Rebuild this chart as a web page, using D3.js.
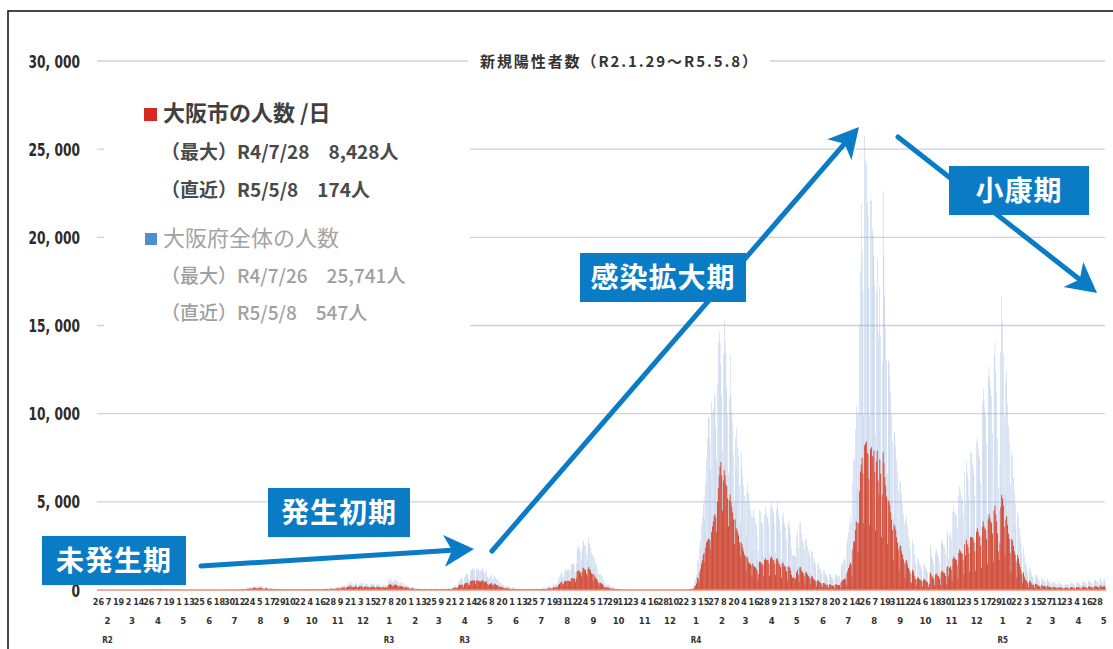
<!DOCTYPE html>
<html lang="ja">
<head>
<meta charset="utf-8">
<script src="https://cdn.jsdelivr.net/npm/d3@7"></script>
<style>
html,body{margin:0;padding:0;background:#fff;}
svg{display:block;}
</style>
</head>
<body>
<svg id="chart" width="1113" height="649"></svg>
<script>
// Daily new cases, Osaka Prefecture (whole), from 2020-01-29 to 2023-05-08, one line per month
const pref2020 = [
1,0,0,
0,0,0,0,0,0,0,0,0,0,0,0,0,0,0,0,0,0,0,0,0,0,0,0,0,1,0,0,2,
7,3,4,8,8,7,5,3,2,4,3,4,3,5,2,1,3,2,3,1,2,4,3,5,7,15,20,17,15,8,20,
22,34,38,41,31,28,49,57,92,63,59,35,30,55,50,43,53,41,30,28,43,29,33,27,20,15,12,25,14,17,
18,13,7,8,6,4,3,5,4,2,3,5,3,2,1,0,1,0,2,1,0,3,0,0,0,1,2,1,0,1,2,
1,2,0,3,0,1,2,0,1,1,0,2,0,1,3,0,2,1,4,2,3,5,4,2,6,8,10,7,5,12,
12,10,14,16,9,7,19,14,22,26,32,28,17,31,46,66,49,86,59,41,72,121,104,149,132,141,83,155,221,190,216,
195,194,88,225,196,225,255,170,177,95,110,187,179,164,135,111,52,132,117,110,107,81,82,41,68,86,90,76,62,58,53,
50,60,49,61,44,41,28,38,46,37,55,43,41,25,54,48,50,61,52,27,25,22,48,35,56,45,41,28,47,56,
52,70,66,58,35,52,64,71,82,86,61,35,50,81,58,63,46,45,37,71,96,85,93,111,89,54,83,132,124,125,132,
120,79,125,131,181,153,202,171,100,190,256,231,264,293,202,184,273,338,370,370,415,490,278,303,326,318,371,463,332,226,
320,399,361,425,398,337,213,348,383,374,327,348,288,230,322,349,348,358,371,326,191,285,359,336,330,311,300,203,246,300,318
];
const pref2021 = [
262,262,283,231,393,560,607,654,547,481,383,449,592,592,510,489,397,264,432,453,368,391,381,174,253,341,286,248,225,213,135,
120,190,193,137,142,119,70,103,106,94,73,90,78,58,51,85,79,95,81,69,53,46,48,60,95,64,43,54,
31,58,80,88,74,53,59,52,66,76,75,83,63,41,62,86,97,114,106,90,108,84,147,209,244,254,262,185,213,432,599,
616,666,666,593,341,719,878,905,883,918,655,603,1099,1130,1208,1209,1161,1220,719,1153,1242,1167,1162,1097,1050,1172,1155,1260,1033,937,
1021,1117,758,662,644,709,835,877,619,436,736,804,702,604,618,532,294,404,431,375,334,279,287,172,205,229,224,207,194,153,68,
112,141,137,134,122,84,60,75,83,80,91,73,70,49,83,55,83,65,59,38,42,64,77,78,74,77,75,43,73,81,
92,97,73,62,59,74,103,125,117,109,106,79,124,177,198,229,211,182,149,221,362,306,300,360,398,297,661,751,932,885,1040,
710,739,1074,1173,1061,1089,1181,1131,1164,1041,1480,1461,1501,1465,1395,1000,1482,2296,2402,2488,2398,2137,1710,2339,2810,2768,2523,2551,2044,1676,2660,
3004,2638,2439,2095,2030,1218,1915,1793,1491,1458,1201,920,525,886,912,823,740,551,408,331,247,372,304,309,261,225,145,196,147,154,
142,120,76,49,116,76,74,59,51,47,20,27,53,36,26,27,19,11,24,27,19,18,24,11,8,20,13,17,10,11,6,
4,11,10,8,8,5,3,7,8,6,11,7,5,2,4,7,6,5,10,6,4,3,8,9,7,5,6,4,9,8,
9,6,8,12,5,6,9,13,8,11,7,4,10,9,12,6,8,10,7,8,19,18,20,27,30,25,18,50,61,88,96
];
const pref2022 = [
102,123,106,244,505,610,891,1711,1560,1075,2452,2826,3692,4125,4857,5396,3900,6101,7375,8612,9813,9778,8400,6800,10676,10073,10288,11019,11144,9213,7375,
11681,14138,14608,14008,12844,11066,7912,13432,15291,14081,13400,11431,9947,6624,10854,13300,11043,10106,9478,7694,4994,8612,6904,9200,8100,7600,5959,3803,
7800,7053,6414,5914,5329,5004,3024,5479,6058,5525,4965,4599,4236,2347,4128,4585,4168,3883,3668,3082,1789,2243,4532,4449,3851,3823,3447,1894,4269,4747,4383,
4082,4194,3686,2042,4628,5057,4720,4426,4363,3685,2145,4617,5048,4491,4173,3968,3365,1771,4209,4402,3878,3692,3548,2893,1489,3723,3961,3553,3141,2355,
2003,2015,1947,1876,1920,3067,3354,2373,1223,3791,3828,3217,2812,2680,2328,1176,2872,2905,2490,2236,2047,1869,904,2229,2154,1827,1617,1560,1297,556,1546,
1472,1267,1155,1116,895,407,1114,1086,909,832,834,676,291,914,897,752,716,723,607,279,866,934,772,758,784,781,374,1218,1503,1491,
1663,1797,1684,754,2566,2919,3281,3729,4103,3853,1980,6124,7392,7374,9126,10421,10057,5718,10102,15004,18098,21900,19128,16855,9913,25741,24373,24165,22004,21283,17193,
9901,22195,22060,20466,20108,18926,17282,8836,16934,18806,14648,14102,17198,14402,7318,12919,22600,19001,16657,14906,13025,6566,13016,12969,12158,11195,10013,8455,4145,9003,8924,
8206,7347,6667,5612,2674,6191,6053,5418,4835,4289,3710,1739,3966,4130,3600,3090,2814,2338,1093,991,2871,2617,2034,1524,1477,655,1793,1724,1502,1433,
1276,1115,480,1380,1488,1330,1203,1135,997,363,745,2601,2267,1956,1745,1570,602,2095,2317,2173,1954,1883,1549,655,2641,2938,2699,2519,2442,2033,855,
3227,3321,1790,3108,3303,2877,1381,4430,4767,4453,4329,4229,3518,1616,5386,5898,5592,5337,5184,4307,2233,6672,4930,7280,6643,6294,5271,2629,7807,7789,
7228,6986,6539,5358,2735,8378,8622,8008,7564,7426,6133,3050,10600,11400,10700,10200,9900,8300,4200,12100,12700,12000,11400,11000,8900,4600,13300,14000,12400,11200,8600
];
const pref2023 = [
5800,4500,7200,13500,16661,15200,13400,9800,5400,11800,12400,10600,9300,8400,6000,2900,7800,7600,6400,5600,4900,3700,1700,4400,4200,3500,3000,2600,2000,900,2400,
1900,1500,1400,1200,1000,400,1300,1200,1000,800,700,750,300,900,850,750,700,600,500,230,650,700,450,600,550,450,200,650,
600,500,450,400,330,160,480,450,420,380,340,280,130,420,400,360,330,280,240,120,280,370,350,330,290,240,110,390,420,380,340,
290,260,130,430,450,420,380,330,290,140,470,500,470,420,370,320,150,490,540,500,450,400,340,160,530,590,540,510,450,400,
240,620,700,480,420,560,640,547
];

// Daily new cases, Osaka City, same days
const city2020 = [
0,0,0,
0,0,0,0,0,0,0,0,0,0,0,0,0,0,0,0,0,0,0,0,0,0,0,0,0,0,0,0,1,
3,1,2,4,3,3,2,1,1,2,1,2,1,2,1,0,1,1,1,0,1,2,1,2,3,7,10,8,7,4,10,
11,16,19,20,15,14,25,28,46,31,30,17,15,27,25,21,27,20,15,14,22,14,16,13,10,7,6,12,7,8,
9,6,3,4,3,2,1,2,2,1,1,2,1,1,0,0,0,0,1,0,0,1,0,0,0,0,1,0,0,0,1,
0,1,0,2,0,0,1,0,0,1,0,1,0,0,2,0,1,0,2,1,2,3,2,1,4,5,6,4,3,8,
8,6,9,10,5,4,12,9,14,16,20,17,10,19,28,40,30,53,36,25,44,74,64,90,80,85,50,93,130,112,126,
115,112,50,128,110,125,140,95,98,52,60,100,96,88,72,60,28,70,62,58,56,42,43,21,35,45,47,40,32,30,28,
26,31,25,32,23,21,14,20,24,19,29,22,21,13,28,25,26,32,27,14,13,11,25,18,29,23,21,14,24,29,
27,36,34,30,18,27,33,37,43,45,32,18,26,42,30,33,24,23,19,37,50,44,48,58,46,28,43,69,65,65,69,
62,41,65,68,94,80,105,89,52,99,133,120,137,152,105,96,142,176,192,192,216,255,145,158,170,165,193,241,173,118,
166,207,188,221,207,175,111,181,199,194,170,181,150,120,167,181,181,186,193,170,99,148,187,175,172,162,156,106,128,156,165
];
const city2021 = [
136,136,147,120,204,291,316,340,284,250,199,233,308,308,265,254,206,137,225,236,191,203,198,90,132,177,149,129,117,111,70,
62,99,100,71,74,62,36,54,55,49,38,47,41,30,27,44,41,49,42,36,28,24,25,31,49,33,22,28,
16,30,42,46,38,28,31,27,34,40,39,43,33,21,32,45,50,59,55,47,56,44,76,109,127,132,136,96,111,225,311,
277,300,300,267,153,324,395,407,397,413,295,271,495,509,544,544,522,549,324,519,559,525,523,494,473,527,520,567,465,422,
459,503,341,298,290,319,376,395,279,196,331,362,316,272,278,239,132,182,194,169,150,126,129,77,92,103,101,93,87,69,31,
50,63,62,60,55,38,27,34,37,36,41,33,32,22,37,25,37,29,27,17,19,29,35,35,33,35,34,19,33,36,
41,44,33,28,27,33,46,56,53,49,48,36,56,80,89,103,95,82,67,99,163,138,135,162,179,134,297,338,419,398,468,
320,333,483,528,477,490,531,509,524,468,666,657,675,659,628,450,667,1033,1081,1120,1079,962,770,1053,1265,1246,1135,1148,920,754,1197,
1300,1187,1098,943,914,548,862,807,671,656,540,414,236,399,410,370,333,248,184,149,111,167,137,139,117,101,65,88,66,69,
64,54,34,22,52,34,33,27,23,21,9,12,24,16,12,12,9,5,11,12,9,8,11,5,4,9,6,8,5,5,3,
2,5,5,4,4,2,1,3,4,3,5,3,2,1,2,3,3,2,5,3,2,1,4,4,3,2,3,2,4,4,
4,3,4,6,2,3,4,6,4,5,3,2,5,4,6,3,4,5,3,4,9,8,9,12,14,11,8,23,28,40,43
];
const city2022 = [
40,50,45,100,210,250,370,700,650,450,1000,1200,1500,1700,2000,2100,1600,2400,2700,2800,2900,2900,2800,2300,3300,3600,3900,4200,4300,4100,3300,
5000,5800,6500,7000,7260,6500,4500,6200,6800,6500,6000,5900,5200,3600,5100,5400,5000,4700,4400,4000,2600,4000,3400,3500,3300,3100,2700,1900,
2700,2600,2400,2200,2000,1900,1100,1900,1800,1600,1500,1500,1400,800,1500,1400,1300,1300,1200,1100,600,900,1600,1600,1500,1500,1400,800,1700,1800,1700,
1700,1700,1500,800,1800,1900,1800,1700,1700,1500,850,1750,1800,1650,1500,1450,1300,700,1500,1550,1400,1350,1300,1050,550,1300,1350,1250,1100,850,
700,700,700,650,650,1000,1150,850,450,1300,1300,1100,1000,950,800,420,1000,1000,880,800,720,650,320,780,760,650,580,550,460,200,560,
530,460,420,400,320,150,400,390,330,300,300,250,110,330,320,270,260,260,220,100,310,340,280,270,280,280,140,440,540,540,
600,650,600,280,950,1100,1250,1400,1550,1450,750,2300,2750,2750,3400,3900,3800,2200,3800,5600,6700,7100,7500,6600,3800,8200,8300,8428,7800,7700,6300,
3700,8000,8100,7600,7500,7900,6700,3400,7300,7900,6200,5400,7400,6600,3000,5400,7800,7200,6400,5900,5300,2600,5100,5000,4800,4400,4000,3400,1700,3700,3600,
3400,3000,2700,2300,1100,2500,2500,2200,2000,1750,1500,700,1600,1700,1450,1250,1150,950,450,400,1150,1050,820,620,600,270,720,700,610,580,
560,480,200,580,620,560,500,480,420,150,320,1000,900,800,720,650,250,850,950,900,800,780,640,270,1000,1100,1050,980,950,800,340,
1300,1350,750,1250,1350,1150,550,1750,1900,1800,1750,1700,1400,650,2100,2300,2200,2100,2050,1700,900,2600,1950,2850,2600,2450,2100,1050,3000,3000,
3000,2900,2700,2200,1100,3300,3500,3300,3100,3000,2500,1250,3600,3900,3600,3500,3400,2900,1500,4000,4300,4100,3900,3800,3200,1600,4500,4800,4300,3900,3200
];
const city2023 = [
2200,1700,2700,4700,5400,5200,4800,3600,2000,4000,4200,3700,3200,2900,2100,1000,2900,2800,2500,2200,2000,1600,700,2000,1800,1500,1300,1100,900,400,1000,
750,600,560,480,400,160,520,480,400,320,280,300,120,360,340,300,280,240,200,90,260,280,180,240,220,180,80,260,
220,190,170,150,130,60,180,170,160,140,130,110,50,160,150,140,130,110,90,45,110,140,130,125,110,90,40,150,160,145,130,
110,100,50,160,170,160,145,125,110,55,180,190,180,160,140,120,60,185,205,190,170,150,130,60,200,225,205,195,170,150,
90,235,265,180,160,210,240,174
];

const firstDayText = "2020-01-29";
const yTickValues = [0, 5000, 10000, 15000, 20000, 25000, 30000];
const dayTickStartText = "2020-01-26";
const dayTickEvery = 12;
const eraLabelDates = ["2020-02-01", "2021-01-01", "2021-04-01", "2022-01-01", "2023-01-01"];
const eraLabelTexts = ["R2", "R3", "R3", "R4", "R5"];
const chartTitle = "新規陽性者数（R2.1.29～R5.5.8）";
const cityName = "大阪市の人数 /日";
const prefName = "大阪府全体の人数";
const phaseLabels = ["未発生期", "発生初期", "感染拡大期", "小康期"];

// ---------------------------------------------------------------
const svg = d3.select("#chart");
const parse = d3.timeParse("%Y-%m-%d");
const firstDay = parse(firstDayText);
const prefDaily = [].concat(pref2020, pref2021, pref2022, pref2023);
const cityDaily = [].concat(city2020, city2021, city2022, city2023);
const days = prefDaily.map((v, i) => ({
  date: d3.timeDay.offset(firstDay, i), pref: v, city: cityDaily[i]
}));

const x = d3.scaleTime()
  .domain([new Date(2020, 0, 25, 12), new Date(2023, 4, 8, 12)])
  .range([97.5, 1105.5]);
const y = d3.scaleLinear().domain([0, 30000]).range([590, 61]);
const step = x(new Date(2020, 0, 27)) - x(new Date(2020, 0, 26));

const CJK = "'Noto Sans CJK JP', 'Noto Sans', sans-serif";
const NARROW = "'Liberation Sans Narrow', 'DejaVu Sans Condensed', 'Liberation Sans', sans-serif";

// outer frame
svg.append("rect").attr("x", 8).attr("y", 11).attr("width", 1300).attr("height", 800)
  .attr("fill", "none").attr("stroke", "#1a1a1a").attr("stroke-width", 1.6);

// horizontal gridlines
svg.append("g").selectAll("line")
  .data(yTickValues.filter(v => v > 0))
  .join("line")
  .attr("x1", 97).attr("x2", 1105)
  .attr("y1", d => y(d)).attr("y2", d => y(d))
  .attr("stroke", "#cdcfe2").attr("stroke-width", 1.4);

// prefecture bars (light, thin)
const bwPref = step * 0.42;
svg.append("g").selectAll("rect")
  .data(days.filter(d => d.pref > 0))
  .join("rect")
  .attr("x", d => x(d.date) - bwPref / 2)
  .attr("width", bwPref)
  .attr("y", d => y(d.pref))
  .attr("height", d => y(0) - y(d.pref))
  .attr("fill", "#9ab4dc");

// city bars (front)
const bwCity = step * 1.12;
svg.append("g").selectAll("rect")
  .data(days.filter(d => d.city > 0))
  .join("rect")
  .attr("x", d => x(d.date) - bwCity / 2)
  .attr("width", bwCity)
  .attr("y", d => y(d.city))
  .attr("height", d => y(0) - y(d.city))
  .attr("fill", "#d4462f");

// baseline
svg.append("line").attr("x1", 97).attr("x2", 1106).attr("y1", y(0)).attr("y2", y(0))
  .attr("stroke", "#e8907f").attr("stroke-width", 1.5);

// y axis labels (horizontally condensed)
const yAxis = svg.append("g").attr("transform", "translate(84,0)")
  .call(d3.axisLeft(y).tickValues(yTickValues).tickSize(0).tickPadding(5)
    .tickFormat(v => d3.format(",")(v).replace(",", ", ")));
yAxis.select(".domain").remove();
yAxis.selectAll("text").attr("font-family", NARROW).attr("font-size", 17)
  .attr("font-weight", "bold").attr("fill", "#2b2b2b").attr("dy", "0.36em")
  .attr("transform", "scale(0.8,1)");

// x axis: days (every 12 days), months, era years
const dayTicks = d3.timeDay.range(parse(dayTickStartText), new Date(2023, 4, 10))
  .filter((d, i) => i % dayTickEvery === 0);
const dayAxis = svg.append("g").attr("transform", `translate(0,${y(0)})`)
  .call(d3.axisBottom(x).tickValues(dayTicks).tickSize(0).tickPadding(9)
    .tickFormat(d3.timeFormat("%-d")));
dayAxis.select(".domain").remove();
dayAxis.selectAll("text").attr("font-family", NARROW).attr("font-size", 9)
  .attr("font-weight", "bold").attr("fill", "#333");

const monthTicks = d3.timeMonth.range(new Date(2020, 1, 1), new Date(2023, 4, 2));
const monthAxis = svg.append("g").attr("transform", `translate(4,${y(0)})`)
  .call(d3.axisBottom(x).tickValues(monthTicks).tickSize(0).tickPadding(27)
    .tickFormat(d3.timeFormat("%-m")));
monthAxis.select(".domain").remove();
monthAxis.selectAll("text").attr("font-family", NARROW).attr("font-size", 9.5)
  .attr("font-weight", "bold").attr("fill", "#333");

const eraAxis = svg.append("g").attr("transform", `translate(4,${y(0)})`)
  .call(d3.axisBottom(x).tickValues(eraLabelDates.map(parse)).tickSize(0).tickPadding(47)
    .tickFormat((d, i) => eraLabelTexts[i]));
eraAxis.select(".domain").remove();
eraAxis.selectAll("text").attr("font-family", NARROW).attr("font-size", 8)
  .attr("font-weight", "bold").attr("fill", "#333");

// title on the top gridline
svg.append("rect").attr("x", 468).attr("y", 50).attr("width", 302).attr("height", 22).attr("fill", "#fff");
svg.append("text").attr("x", 480).attr("y", 66.5).text(chartTitle)
  .attr("font-family", CJK).attr("font-size", 15).attr("font-weight", "bold").attr("fill", "#333")
  .attr("textLength", 277).attr("lengthAdjust", "spacing");

// legend, with figures taken from the series
const eraDate = d => `R${d.getFullYear() - 2018}/${d.getMonth() + 1}/${d.getDate()}`;
const fmt = d3.format(",");
const cityMax = days.reduce((a, b) => (b.city > a.city ? b : a));
const prefMax = days.reduce((a, b) => (b.pref > a.pref ? b : a));
const last = days[days.length - 1];

const legend = svg.append("g");
legend.append("rect").attr("x", 104).attr("y", 82).attr("width", 366).attr("height", 252).attr("fill", "#fff");
legend.append("rect").attr("x", 144).attr("y", 108).attr("width", 13).attr("height", 13).attr("fill", "#d42a22");
legend.append("rect").attr("x", 145).attr("y", 233).attr("width", 12).attr("height", 12).attr("fill", "#4f8fd0");
const legendLines = [
  { t: cityName, y: 121, size: 22, w: "bold", c: "#404040" },
  { t: `（最大）${eraDate(cityMax.date)}　${fmt(cityMax.city)}人`, y: 159, size: 19, w: "bold", c: "#4a4a4a" },
  { t: `（直近）${eraDate(last.date)}　${fmt(last.city)}人`, y: 197, size: 19, w: "bold", c: "#4a4a4a" },
  { t: prefName, y: 246, size: 22, w: "normal", c: "#a3a3a3" },
  { t: `（最大）${eraDate(prefMax.date)}　${fmt(prefMax.pref)}人`, y: 283, size: 19, w: "500", c: "#9f9f9f" },
  { t: `（直近）${eraDate(last.date)}　${fmt(last.pref)}人`, y: 320, size: 19, w: "500", c: "#9f9f9f" }
];
legend.selectAll("text.lg").data(legendLines).join("text").attr("class", "lg")
  .attr("x", (d, i) => (i % 3 === 0 ? 163 : 161))
  .attr("y", d => d.y)
  .attr("font-family", CJK).attr("font-size", d => d.size)
  .attr("font-weight", d => d.w).attr("fill", d => d.c)
  .text(d => d.t);

// phase annotations: arrows first, boxes on top
const BLUE = "#0a7cc6";
const arrows = [
  { from: [201, 566], to: [474, 549] },
  { from: [492, 551], to: [859, 127] },
  { from: [898, 137], to: [1097, 293] }
];
const ag = svg.append("g");
arrows.forEach(a => {
  const [x0, y0] = a.from, [x1, y1] = a.to;
  const len = Math.hypot(x1 - x0, y1 - y0);
  const ux = (x1 - x0) / len, uy = (y1 - y0) / len;
  const nx = -uy, ny = ux;
  const L = 30, hw = 16, notch = 8;
  const bx = x1 - ux * L, by = y1 - uy * L;
  const mx = x1 - ux * (L - notch), my = y1 - uy * (L - notch);
  ag.append("line").attr("x1", x0).attr("y1", y0).attr("x2", mx).attr("y2", my)
    .attr("stroke", BLUE).attr("stroke-width", 5).attr("stroke-linecap", "round");
  ag.append("path")
    .attr("d", `M${x1},${y1}L${bx + nx * hw},${by + ny * hw}L${mx},${my}L${bx - nx * hw},${by - ny * hw}Z`)
    .attr("fill", BLUE);
});

const phaseBoxes = [
  { x: 42, y: 536, w: 144, h: 49 },
  { x: 268, y: 488, w: 142, h: 49 },
  { x: 580, y: 253, w: 166, h: 49 },
  { x: 949, y: 166, w: 140, h: 49 }
];
const pg = svg.append("g").selectAll("g").data(phaseBoxes).join("g");
pg.append("rect").attr("x", d => d.x).attr("y", d => d.y).attr("width", d => d.w).attr("height", d => d.h)
  .attr("fill", BLUE);
pg.append("text").attr("x", d => d.x + d.w / 2).attr("y", d => d.y + d.h / 2 + 10)
  .attr("text-anchor", "middle").attr("font-family", CJK).attr("font-size", 28)
  .attr("font-weight", "bold").attr("fill", "#fff").attr("letter-spacing", 1)
  .text((d, i) => phaseLabels[i]);
</script>
</body>
</html>
